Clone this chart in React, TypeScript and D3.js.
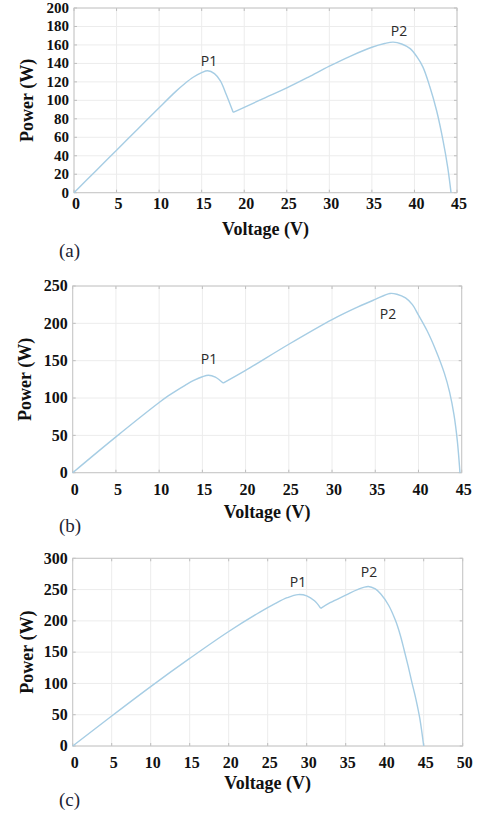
import React from 'react';
import * as d3 from 'd3';

// panel (a)
const voltA1 = [0, 2.5, 5, 7.5, 10, 12, 13, 14, 15, 15.7, 16.5, 17.2, 17.9, 18.7];
const powerA1 = [0, 23, 46, 69, 92, 110, 118, 125, 130, 132, 129, 121, 106, 87];
const voltA2 = [18.7, 20, 22.5, 25, 27.5, 30, 32.5, 35, 36.5, 37.5, 38.5, 39.5, 40.3, 41, 41.8, 42.6, 43.35, 43.9, 44.3];
const powerA2 = [87, 92.5, 103, 113.5, 125, 137, 148, 157.5, 161.5, 163, 161, 156, 147, 136, 115, 89, 57, 28, 0];

// panel (b)
const voltB1 = [0, 5, 10, 11, 12, 13, 14, 15, 15.7, 16.5, 17.4];
const powerB1 = [0, 48, 94, 102.5, 110, 117, 123.5, 128.5, 130.5, 128, 120];
const voltB2 = [17.4, 20, 25, 30, 33, 35, 36.7, 37.5, 38.5, 39.3, 40, 41, 42, 43, 43.6, 44.1, 44.5, 44.8];
const powerB2 = [120, 137, 172, 205, 222, 232, 240, 239, 234, 225, 211, 190, 164, 133, 108, 78, 42, 0];

// panel (c)
const voltC1 = [0, 5, 10, 15, 20, 24, 26, 27.5, 28.9, 30, 31, 31.8];
const powerC1 = [0, 48, 95, 140, 183, 214, 228, 237, 242, 240, 232, 220];
const voltC2 = [31.8, 33, 35, 36.5, 37.9, 38.8, 39.5, 40.5, 41.4, 42, 42.5, 43, 43.5, 44, 44.5, 45];
const powerC2 = [220, 229, 241, 250, 255, 251, 243, 225, 200, 177, 153, 128, 101, 75, 44, 0];

const xTicksA = [0, 5, 10, 15, 20, 25, 30, 35, 40, 45];
const yTicksA = [0, 20, 40, 60, 80, 100, 120, 140, 160, 180, 200];
const xTicksC = [0, 5, 10, 15, 20, 25, 30, 35, 40, 45, 50];
const yTicksB = [0, 50, 100, 150, 200, 250];
const yTicksC = [0, 50, 100, 150, 200, 250, 300];

const serif = '"Liberation Serif", "Times New Roman", serif';
const sans = '"Open Sans", "Liberation Sans", sans-serif';

type Label = { text: string; x: number; y: number };

function Panel(props: {
  left: number; right: number; top: number; bottom: number;
  xMax: number; yMax: number; xTicks: number[]; yTicks: number[];
  segs: [number[], number[]][]; labels: Label[];
  caption: string; capY: number; xTitleY: number; xTickY: number; yTitleX: number;
  tickSize: number;
}) {
  const { left, right, top, bottom, xMax, yMax, xTicks, yTicks, segs, labels } = props;
  const x = d3.scaleLinear().domain([0, xMax]).range([left, right]);
  const y = d3.scaleLinear().domain([0, yMax]).range([bottom, top]);
  const line = d3.line<[number, number]>()
    .x(d => x(d[0]))
    .y(d => y(d[1]))
    .curve(d3.curveCatmullRom.alpha(0.5));

  return (
    <g>
      <rect x={left} y={top} width={right - left} height={bottom - top} fill="#fff" />
      {xTicks.map(t => (
        <line key={'gx' + t} x1={x(t)} x2={x(t)} y1={top} y2={bottom} stroke="#ececec" />
      ))}
      {yTicks.map(t => (
        <line key={'gy' + t} x1={left} x2={right} y1={y(t)} y2={y(t)} stroke="#ececec" />
      ))}
      {xTicks.map(t => (
        <g key={'tx' + t}>
          <line x1={x(t)} x2={x(t)} y1={bottom} y2={bottom - 3} stroke="#bdbdbd" />
          <line x1={x(t)} x2={x(t)} y1={top} y2={top + 3} stroke="#bdbdbd" />
        </g>
      ))}
      {yTicks.map(t => (
        <g key={'ty' + t}>
          <line x1={left} x2={left + 3} y1={y(t)} y2={y(t)} stroke="#bdbdbd" />
          <line x1={right} x2={right - 3} y1={y(t)} y2={y(t)} stroke="#bdbdbd" />
        </g>
      ))}
      <rect x={left} y={top} width={right - left} height={bottom - top} fill="none" stroke="#c6c6c6" />
      {segs.map((s, i) => (
        <path key={i} d={line(s[0].map((v, j) => [v, s[1][j]] as [number, number])) || ''}
          fill="none" stroke="#a6cde4" strokeWidth={1.4} />
      ))}
      {labels.map(l => (
        <text key={l.text} x={l.x} y={l.y} fontFamily={sans} fontSize={14} fill="#2a2a2a"
          textAnchor="middle">{l.text}</text>
      ))}
      {yTicks.map(t => (
        <text key={'ly' + t} x={left - 5} y={y(t)} dy="0.33em" textAnchor="end"
          fontFamily={serif} fontWeight="bold" fontSize={props.tickSize} fill="#111">{t}</text>
      ))}
      {xTicks.map(t => (
        <text key={'lx' + t} x={x(t) + 2} y={props.xTickY} textAnchor="middle"
          fontFamily={serif} fontWeight="bold" fontSize={16} fill="#111">{t}</text>
      ))}
      <text x={(left + right) / 2} y={props.xTitleY} textAnchor="middle" fontFamily={serif}
        fontWeight="bold" fontSize={18} fill="#111">Voltage (V)</text>
      <text transform={`translate(${props.yTitleX},${(top + bottom) / 2}) rotate(-90)`}
        textAnchor="middle" dy="0.35em" fontFamily={serif} fontWeight="bold" fontSize={18}
        fill="#111">Power (W)</text>
      <text x={59} y={props.capY} fontFamily={serif} fontSize={19} fill="#1c2333">{props.caption}</text>
    </g>
  );
}

export default function App() {
  return (
    <svg width={487} height={817} style={{ position: 'absolute', left: 0, top: 0, background: '#fff' }}>
      <rect width={487} height={817} fill="#fff" />
      <Panel left={74} right={457} top={8} bottom={192.7} xMax={45} yMax={200}
        xTicks={xTicksA} yTicks={yTicksA} segs={[[voltA1, powerA1], [voltA2, powerA2]]}
        labels={[{ text: 'P1', x: 209, y: 66 }, { text: 'P2', x: 399, y: 36 }]}
        caption="(a)" capY={257} xTitleY={235} xTickY={209} yTitleX={27} tickSize={15} />
      <Panel left={72.7} right={461.7} top={286} bottom={472.7} xMax={45} yMax={250}
        xTicks={xTicksA} yTicks={yTicksB} segs={[[voltB1, powerB1], [voltB2, powerB2]]}
        labels={[{ text: 'P1', x: 209, y: 364 }, { text: 'P2', x: 388, y: 319 }]}
        caption="(b)" capY={532} xTitleY={518} xTickY={495} yTitleX={25} tickSize={16} />
      <Panel left={72.7} right={462.7} top={558.3} bottom={746} xMax={50} yMax={300}
        xTicks={xTicksC} yTicks={yTicksC} segs={[[voltC1, powerC1], [voltC2, powerC2]]}
        labels={[{ text: 'P1', x: 298, y: 587 }, { text: 'P2', x: 369, y: 577 }]}
        caption="(c)" capY={806} xTitleY={789} xTickY={768} yTitleX={27} tickSize={16} />
    </svg>
  );
}
